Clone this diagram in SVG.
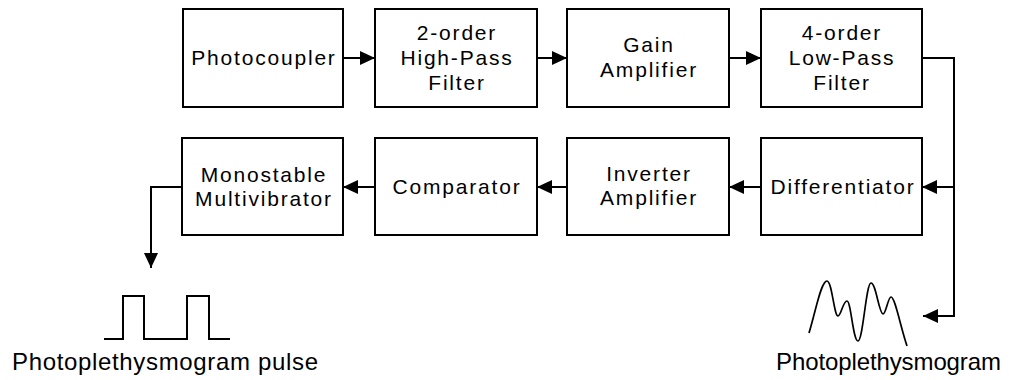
<svg xmlns="http://www.w3.org/2000/svg" width="1009" height="380" viewBox="0 0 1009 380">
<style>
.box{fill:#fff;stroke:#000;stroke-width:2}
.t{font-family:"Liberation Sans",Arial,sans-serif;font-size:21px;letter-spacing:1.8px;text-anchor:middle;fill:#000}
.big{font-family:"Liberation Sans",Arial,sans-serif;font-size:24px;fill:#000}
.ln{fill:none;stroke:#000;stroke-width:2}
</style>
<defs>
<marker id="ah" markerUnits="userSpaceOnUse" markerWidth="16" markerHeight="14" refX="15" refY="7" orient="auto">
<path d="M0,0 L15,7 L0,14 z" fill="#000"/>
</marker>
</defs>
<rect width="1009" height="380" fill="#fff"/>
<g id="photocoupler"><rect class="box" x="183" y="9" width="160" height="98"/><text class="t" x="264" y="65">Photocoupler</text></g>
<g id="hpf"><rect class="box" x="375" y="9" width="162" height="98"/><text class="t" x="457" y="40">2-order</text><text class="t" x="457" y="65">High-Pass</text><text class="t" x="457" y="90">Filter</text></g>
<g id="gain"><rect class="box" x="567" y="9" width="162" height="98"/><text class="t" x="649" y="52">Gain</text><text class="t" x="649" y="77">Amplifier</text></g>
<g id="lpf"><rect class="box" x="761" y="9" width="161" height="98"/><text class="t" x="842" y="40">4-order</text><text class="t" x="842" y="65">Low-Pass</text><text class="t" x="842" y="90">Filter</text></g>
<g id="differentiator"><rect class="box" x="761" y="138" width="161" height="97"/><text class="t" x="843" y="194">Differentiator</text></g>
<g id="inverter"><rect class="box" x="567" y="138" width="162" height="97"/><text class="t" x="649" y="181">Inverter</text><text class="t" x="649" y="205">Amplifier</text></g>
<g id="comparator"><rect class="box" x="375" y="138" width="162" height="97"/><text class="t" x="457" y="194">Comparator</text></g>
<g id="monostable"><rect class="box" x="182" y="138" width="161" height="97"/><text class="t" x="264" y="182">Monostable</text><text class="t" x="264" y="206">Multivibrator</text></g>
<g id="connectors">
<path class="ln" d="M343,58 H375" marker-end="url(#ah)"/>
<path class="ln" d="M537,58 H567" marker-end="url(#ah)"/>
<path class="ln" d="M729,58 H761" marker-end="url(#ah)"/>
<path class="ln" d="M922,58 H954 V316 H923" marker-end="url(#ah)"/>
<path class="ln" d="M954,187 H922" marker-end="url(#ah)"/>
<path class="ln" d="M761,187 H729" marker-end="url(#ah)"/>
<path class="ln" d="M567,187 H537" marker-end="url(#ah)"/>
<path class="ln" d="M375,187 H343" marker-end="url(#ah)"/>
<path class="ln" d="M182,187 H151 V268" marker-end="url(#ah)"/>
</g>
<g id="pulse">
<path class="ln" d="M104,339 H123 V296 H144 V339 H187 V296 H209 V339 H230"/>
<text class="big" x="12" y="370" textLength="306" lengthAdjust="spacing">Photoplethysmogram pulse</text>
</g>
<g id="ppg">
<path class="ln" style="stroke-width:1.7" d="M809,333 C816,310 821,281 827,281 C832,281 834,316 838,316 C841,316 843,301 847,301 C851,301 853,341 858,341 C863,341 866,283 871,283 C876,283 879,314 883,314 C886,314 888,297 891,297 C895,297 900,325 907,346"/>
<text class="big" x="776" y="370" textLength="225" lengthAdjust="spacing">Photoplethysmogram</text>
</g>
</svg>
